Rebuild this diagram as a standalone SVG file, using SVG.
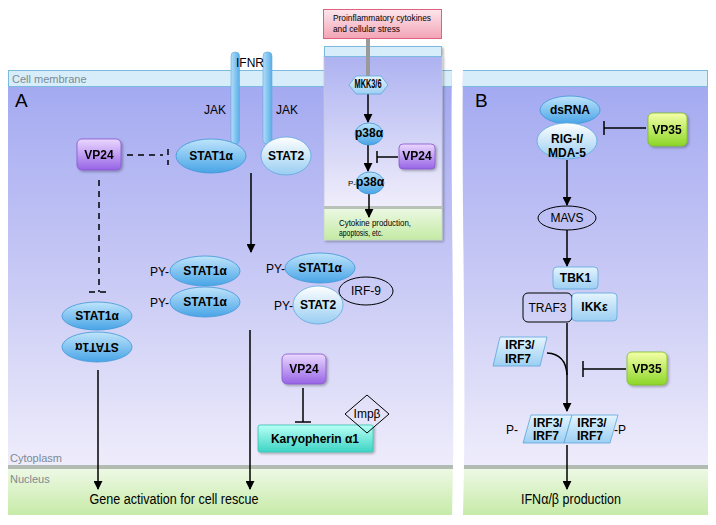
<svg xmlns="http://www.w3.org/2000/svg" width="716" height="525" viewBox="0 0 716 525">
<defs>
<linearGradient id="gLav" gradientUnits="userSpaceOnUse" x1="0" y1="86" x2="0" y2="468"><stop offset="0" stop-color="#a4aaf1"/><stop offset="0.5" stop-color="#c8c9f5"/><stop offset="1" stop-color="#efedfb"/></linearGradient>
<linearGradient id="gLavI" gradientUnits="userSpaceOnUse" x1="0" y1="56" x2="0" y2="207"><stop offset="0" stop-color="#adb2f1"/><stop offset="1" stop-color="#f0eefb"/></linearGradient>
<linearGradient id="gGreen" x1="0" y1="0" x2="0" y2="1"><stop offset="0" stop-color="#eef9e6"/><stop offset="1" stop-color="#c4eaa4"/></linearGradient>
<linearGradient id="gStat" x1="0" y1="0" x2="0" y2="1"><stop offset="0" stop-color="#bfe4fb"/><stop offset="1" stop-color="#48a4e6"/></linearGradient>
<linearGradient id="gStat2" x1="0" y1="0" x2="0" y2="1"><stop offset="0" stop-color="#ffffff"/><stop offset="1" stop-color="#98cdf2"/></linearGradient>
<linearGradient id="gVP24" x1="0" y1="0" x2="0" y2="1"><stop offset="0" stop-color="#ead8ff"/><stop offset="1" stop-color="#9764e6"/></linearGradient>
<linearGradient id="gVP35" x1="0" y1="0" x2="0" y2="1"><stop offset="0" stop-color="#f4ffa8"/><stop offset="1" stop-color="#8cd628"/></linearGradient>
<linearGradient id="gKary" x1="0" y1="0" x2="0" y2="1"><stop offset="0" stop-color="#b8fff6"/><stop offset="1" stop-color="#3ed4c4"/></linearGradient>
<linearGradient id="gRec" x1="0" y1="0" x2="1" y2="0"><stop offset="0" stop-color="#b2ddf9"/><stop offset="1" stop-color="#5aaee8"/></linearGradient>
<linearGradient id="gLB" x1="0" y1="0" x2="0" y2="1"><stop offset="0" stop-color="#e4f4fd"/><stop offset="1" stop-color="#9ccff2"/></linearGradient>
<linearGradient id="gPink" x1="0" y1="0" x2="0" y2="1"><stop offset="0" stop-color="#fde6ec"/><stop offset="1" stop-color="#f3a4b6"/></linearGradient>
<filter id="sh" x="-20%" y="-20%" width="150%" height="150%"><feDropShadow dx="1.5" dy="1.5" stdDeviation="1.2" flood-color="#000" flood-opacity="0.3"/></filter>
<marker id="ah" viewBox="0 0 10 10" refX="9" refY="5" markerWidth="9" markerHeight="9" markerUnits="userSpaceOnUse" orient="auto"><path d="M0,0 L10,5 L0,10 Z" fill="#000"/></marker>
<clipPath id="cA"><path d="M8,70 L452,70 C450,180 456,380 452,515 L8,515 Z"/></clipPath>
<clipPath id="cB"><path d="M463,70 L708,70 L708,515 L463,515 C467,380 461,180 463,70 Z"/></clipPath>
<style>
text{font-family:"Liberation Sans",Arial,sans-serif;fill:#000}
.b{font-weight:bold;font-size:12px;text-anchor:middle}
.n{font-size:12px}
.lbl{font-size:11px;fill:#7c8a96}
.stat{fill:url(#gStat);stroke:#3f95d6;stroke-width:0.8}
.stat2{fill:url(#gStat2);stroke:#5ea8dc;stroke-width:0.8}
.vp24{fill:url(#gVP24);stroke:#8556cc;stroke-width:0.8}
.vp35{fill:url(#gVP35);stroke:#7cbc24;stroke-width:0.8}
.lb{fill:url(#gLB);stroke:#5aa6dc;stroke-width:0.8}
.mem{fill:#d7eefa;stroke:#7cbade;stroke-width:1}
.ln{stroke:#000;stroke-width:1.5;fill:none}
.arr{stroke:#000;stroke-width:1.5;fill:none;marker-end:url(#ah)}
.dash{stroke:#000;stroke-width:1.5;fill:none;stroke-dasharray:6,5}
.ol{fill:none;stroke:#000;stroke-width:1}
</style>
</defs>
<rect width="716" height="525" fill="#fff"/>
<!-- Panel A background -->
<g id="panelA-bg" clip-path="url(#cA)">
<rect x="0" y="70" width="460" height="400" fill="url(#gLav)"/>
<rect x="0" y="468" width="460" height="50" fill="url(#gGreen)"/>
<rect x="0" y="465" width="460" height="4" fill="#b3bcb3"/>
<rect x="8.5" y="70.5" width="450" height="16" class="mem"/>
</g>
<!-- Panel B background -->
<g id="panelB-bg" clip-path="url(#cB)">
<rect x="455" y="70" width="260" height="400" fill="url(#gLav)"/>
<rect x="455" y="468" width="260" height="50" fill="url(#gGreen)"/>
<rect x="455" y="465" width="260" height="4" fill="#b3bcb3"/>
<rect x="455" y="70.5" width="252.5" height="16" class="mem"/>
</g>
<text x="12" y="83" class="lbl">Cell membrane</text>
<text x="10" y="462" class="lbl">Cytoplasm</text>
<text x="10" y="483" class="lbl">Nucleus</text>
<text x="15" y="107" font-size="19">A</text>
<text x="475" y="107" font-size="19">B</text>

<!-- Inset p38 pathway -->
<g id="inset" filter="url(#sh)">
<rect x="324" y="56" width="118" height="152" fill="url(#gLavI)" stroke="#c8c8d8" stroke-width="0.8"/>
<rect x="324" y="207" width="118" height="33" fill="url(#gGreen)" stroke="#c8d8c0" stroke-width="0.8"/>
<rect x="324" y="206" width="118" height="3" fill="#b8c2b8"/>
<rect x="324.5" y="46.5" width="117" height="10" class="mem"/>
</g>
<g id="stimulus">
<rect x="323.5" y="9.5" width="118" height="29" fill="url(#gPink)" stroke="#e0607e" stroke-width="1"/>
<text x="333" y="21" font-size="9.5" textLength="98" lengthAdjust="spacingAndGlyphs">Proinflammatory cytokines</text>
<text x="333" y="32" font-size="9.5" textLength="67" lengthAdjust="spacingAndGlyphs">and cellular stress</text>
</g>
<g id="cytokine-out">
<text x="339" y="226" font-size="9" textLength="72" lengthAdjust="spacingAndGlyphs">Cytokine production,</text>
<text x="339" y="236" font-size="9" textLength="44" lengthAdjust="spacingAndGlyphs">apoptosis, etc.</text>
</g>

<!-- Connectors -->
<g id="connectors">
<line x1="368" y1="39" x2="368" y2="78" stroke="#9a9a9a" stroke-width="4"/>
<line x1="368" y1="94" x2="368" y2="122" class="arr"/>
<line x1="368" y1="145" x2="368" y2="171" class="arr"/>
<line x1="398" y1="157" x2="377" y2="157" class="ln" stroke-width="1.2"/>
<line x1="377" y1="151" x2="377" y2="163" class="ln" stroke-width="1.2"/>
<line x1="369" y1="194" x2="369" y2="217" class="arr"/>
<line x1="127" y1="155" x2="163" y2="155" class="dash"/>
<line x1="168" y1="149" x2="168" y2="165" class="dash" stroke-dasharray="5,3"/>
<line x1="99" y1="180" x2="99" y2="292" class="dash"/>
<line x1="89" y1="292" x2="108" y2="292" class="dash" stroke-dasharray="5,3"/>
<line x1="251" y1="173" x2="251" y2="252" class="arr"/>
<line x1="250" y1="330" x2="250" y2="489" class="arr"/>
<line x1="98" y1="370" x2="98" y2="489" class="arr"/>
<line x1="303" y1="388" x2="303" y2="422" class="ln"/>
<line x1="295" y1="422" x2="311" y2="422" class="ln"/>
<line x1="646" y1="128" x2="604" y2="128" class="ln"/>
<line x1="604" y1="121" x2="604" y2="135" class="ln"/>
<line x1="567" y1="160" x2="567" y2="205" class="arr"/>
<line x1="567" y1="230" x2="567" y2="266" class="arr"/>
<line x1="567" y1="323" x2="567" y2="411" class="arr"/>
<path d="M547,353 Q566,354 567,375" class="ln"/>
<line x1="626" y1="369" x2="583" y2="369" class="ln"/>
<line x1="583" y1="361" x2="583" y2="377" class="ln"/>
<line x1="567" y1="445" x2="567" y2="489" class="arr"/>
</g>

<!-- Panel A nodes -->
<g id="IFNR">
<rect x="231" y="52" width="8.5" height="92" rx="4" fill="url(#gRec)" stroke="#5aaae2" stroke-width="0.6"/>
<rect x="263" y="52" width="9" height="92" rx="4" fill="url(#gRec)" stroke="#5aaae2" stroke-width="0.6"/>
<text x="236" y="67" class="n">IFNR</text>
<text x="204" y="114" class="n">JAK</text>
<text x="276" y="114" class="n">JAK</text>
</g>
<g id="STAT1a-top"><ellipse cx="211" cy="156" rx="35" ry="17" class="stat"/><text x="211" y="160" class="b">STAT1α</text></g>
<g id="STAT2-top"><ellipse cx="286" cy="156" rx="25" ry="19" class="stat2"/><text x="286" y="160" class="b">STAT2</text></g>
<g id="VP24-a" filter="url(#sh)"><rect x="77" y="139" width="44" height="31" rx="5" class="vp24"/><text x="99" y="159" class="b">VP24</text></g>
<g id="STAT1a-dimer-unphos">
<ellipse cx="97" cy="347" rx="35" ry="15" class="stat"/>
<ellipse cx="97" cy="316" rx="35" ry="14" class="stat"/>
<text x="97" y="320" class="b">STAT1α</text>
<text class="b" transform="rotate(180 97 347)" x="97" y="351">STAT1α</text>
</g>
<g id="STAT1a-homodimer">
<ellipse cx="205" cy="302" rx="35" ry="15" class="stat"/>
<ellipse cx="205" cy="271" rx="35" ry="15" class="stat"/>
<text x="205" y="275" class="b">STAT1α</text>
<text x="205" y="306" class="b">STAT1α</text>
<text x="150" y="276" class="n">PY-</text>
<text x="150" y="307" class="n">PY-</text>
</g>
<g id="ISGF3">
<ellipse cx="320" cy="268" rx="35" ry="15" class="stat"/>
<text x="320" y="272" class="b">STAT1α</text>
<ellipse cx="366" cy="291" rx="27" ry="14" class="ol"/>
<text x="366" y="295" class="n" text-anchor="middle">IRF-9</text>
<ellipse cx="318" cy="305" rx="25" ry="19" class="stat2"/>
<text x="318" y="309" class="b">STAT2</text>
<text x="266" y="273" class="n">PY-</text>
<text x="274" y="310" class="n">PY-</text>
</g>
<g id="VP24-b" filter="url(#sh)"><rect x="282" y="354" width="44" height="30" rx="5" class="vp24"/><text x="304" y="373" class="b">VP24</text></g>
<g id="karyopherin">
<rect x="258" y="425" width="115" height="27" rx="2" fill="url(#gKary)" stroke="#34c2b2" stroke-width="0.8" filter="url(#sh)"/>
<text x="315" y="443" class="b" font-size="12.5">Karyopherin α1</text>
</g>
<g id="impb"><path d="M367,395 L389,414 L367,433 L345,414 Z" class="ol"/><text x="367" y="418" class="n" text-anchor="middle">Impβ</text></g>
<text x="174" y="504" font-size="14" text-anchor="middle" textLength="169" lengthAdjust="spacingAndGlyphs">Gene activation for cell rescue</text>

<!-- Inset nodes -->
<g id="MKK36"><path d="M356,76 L381,76 L388,85 L381,94 L356,94 L349,85 Z" fill="url(#gLB)" stroke="#5aa6dc" stroke-width="0.8"/><text x="368" y="88" class="b" font-size="7.5" textLength="27" lengthAdjust="spacingAndGlyphs">MKK3/6</text></g>
<g id="p38a"><ellipse cx="369" cy="134" rx="14" ry="11" class="stat"/><text x="369" y="137" class="b" font-size="8">p38α</text></g>
<g id="P-p38a"><ellipse cx="370" cy="183" rx="14" ry="11" class="stat"/><text x="370" y="186" class="b" font-size="8">p38α</text><text x="348" y="186" font-size="8">P-</text></g>
<g id="VP24-inset" filter="url(#sh)"><rect x="399" y="144" width="36" height="25" rx="4" class="vp24"/><text x="417" y="160" class="b" font-size="9">VP24</text></g>

<!-- Panel B nodes -->
<g id="dsRNA"><ellipse cx="570" cy="110" rx="30" ry="14" class="stat"/><text x="570" y="114" class="b">dsRNA</text></g>
<g id="RIGI"><ellipse cx="567" cy="141" rx="30" ry="18" class="stat2"/><text x="567" y="143" class="b">RIG-I/</text><text x="567" y="157" class="b">MDA-5</text></g>
<g id="VP35-a" filter="url(#sh)"><rect x="648" y="113" width="39" height="33" rx="5" class="vp35"/><text x="667" y="134" class="b">VP35</text></g>
<g id="MAVS"><ellipse cx="567" cy="218" rx="29" ry="12" class="ol"/><text x="567" y="222" class="n" text-anchor="middle">MAVS</text></g>
<g id="TBK1"><rect x="553" y="267" width="45" height="22" rx="4" class="lb"/><text x="575.5" y="282" class="b">TBK1</text></g>
<g id="TRAF3"><rect x="523" y="293" width="49" height="29" rx="5" class="ol"/><text x="547.5" y="312" class="n" text-anchor="middle">TRAF3</text></g>
<g id="IKKe"><rect x="572" y="293" width="45" height="28" rx="4" class="lb"/><text x="594.5" y="311" class="b">IKKε</text></g>
<g id="IRF-in"><path d="M500,337 L547,337 L540,366 L493,366 Z" class="lb"/><text x="520" y="349" class="b">IRF3/</text><text x="518" y="363" class="b">IRF7</text></g>
<g id="VP35-b" filter="url(#sh)"><rect x="627" y="352" width="40" height="33" rx="5" class="vp35"/><text x="647" y="373" class="b">VP35</text></g>
<g id="IRF-dimer">
<path d="M531,415 L572,415 L564,443 L523,443 Z" class="lb"/>
<path d="M572,415 L618,415 L610,443 L564,443 Z" class="lb"/>
<text x="548" y="427" class="b">IRF3/</text><text x="546" y="440" class="b">IRF7</text>
<text x="592" y="427" class="b">IRF3/</text><text x="590" y="440" class="b">IRF7</text>
<text x="506" y="434" class="n">P-</text><text x="614" y="434" class="n">-P</text>
</g>
<text x="571" y="504" font-size="14" text-anchor="middle" textLength="100" lengthAdjust="spacingAndGlyphs">IFNα/β production</text>
</svg>
